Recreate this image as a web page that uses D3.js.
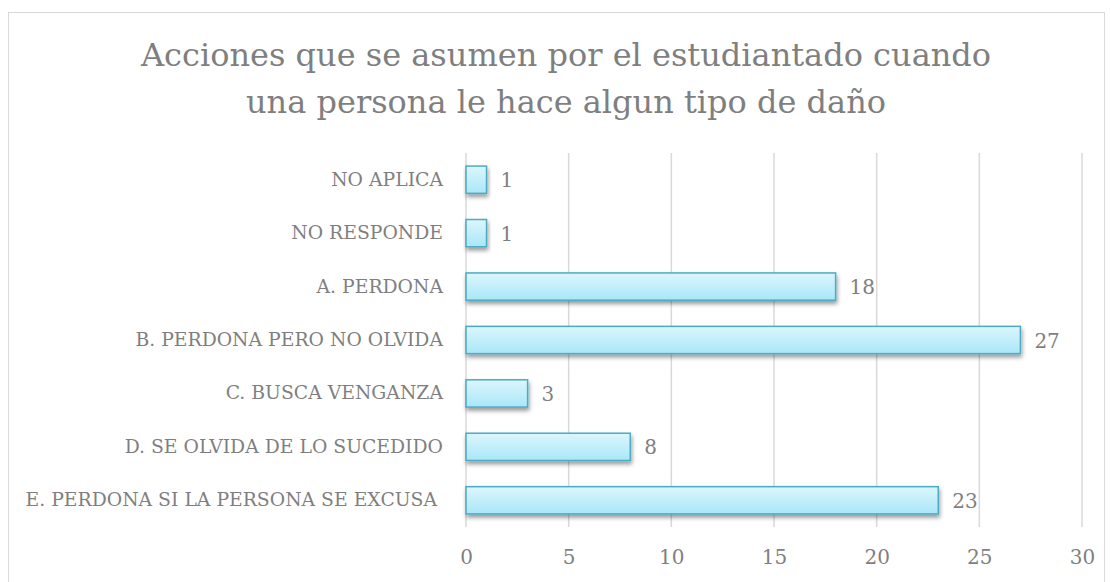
<!DOCTYPE html>
<html>
<head>
<meta charset="utf-8">
<script src="https://cdn.jsdelivr.net/npm/d3@7"></script>
<style>
  body { margin: 0; background: #fff; }
  svg text { font-family: "DejaVu Serif", "Liberation Serif", serif; fill: #7f7f7f; }
</style>
</head>
<body>
<div id="chart"></div>
<script>
const titleLines = ["Acciones que se asumen por el estudiantado cuando", "una persona le hace algun tipo de daño"];
const categories = [
  "NO APLICA",
  "NO RESPONDE",
  "A. PERDONA",
  "B. PERDONA PERO NO OLVIDA",
  "C. BUSCA VENGANZA",
  "D. SE OLVIDA DE LO SUCEDIDO",
  "E. PERDONA SI LA PERSONA SE EXCUSA "
];
const values = [1, 1, 18, 27, 3, 8, 23];
const xTicks = [0, 5, 10, 15, 20, 25, 30];

const width = 1110, height = 582;
const margin = { left: 466, right: 28, top: 153, bottom: 55 };

const svg = d3.select("#chart").append("svg")
  .attr("width", width)
  .attr("height", height);

const defs = svg.append("defs");
const grad = defs.append("linearGradient")
  .attr("id", "barGrad")
  .attr("x1", 0).attr("y1", 0).attr("x2", 0).attr("y2", 1);
grad.append("stop").attr("offset", "0%").attr("stop-color", "#dcf6fd");
grad.append("stop").attr("offset", "100%").attr("stop-color", "#a9e7f8");

const shadow = defs.append("filter").attr("id", "shadow")
  .attr("x", "-10%").attr("y", "-20%").attr("width", "130%").attr("height", "160%");
shadow.append("feDropShadow")
  .attr("dx", 1).attr("dy", 3).attr("stdDeviation", 2)
  .attr("flood-color", "#000").attr("flood-opacity", 0.4);

// frame
svg.append("rect")
  .attr("x", 8.5).attr("y", 12.5)
  .attr("width", 1096).attr("height", 600)
  .attr("fill", "#fff")
  .attr("stroke", "#d9d9d9");

// title
svg.append("g").selectAll("text")
  .data(titleLines)
  .enter().append("text")
  .attr("x", 566)
  .attr("y", (d, i) => 66 + i * 47)
  .attr("text-anchor", "middle")
  .attr("font-size", "32px")
  .text(d => d);

const x = d3.scaleLinear()
  .domain([0, 30])
  .range([margin.left, width - margin.right]);

const y = d3.scaleBand()
  .domain(categories)
  .range([margin.top, height - margin.bottom])
  .paddingInner(0.49)
  .paddingOuter(0.245);

// gridlines
svg.append("g").selectAll("line")
  .data(xTicks)
  .enter().append("line")
  .attr("x1", d => x(d)).attr("x2", d => x(d))
  .attr("y1", margin.top).attr("y2", height - margin.bottom)
  .attr("stroke", "#d9d9d9")
  .attr("stroke-width", 1.5);

// x axis labels
const xAxis = svg.append("g")
  .attr("transform", `translate(0,${height - margin.bottom})`)
  .call(d3.axisBottom(x).tickValues(xTicks).tickSize(0).tickPadding(23));
xAxis.select(".domain").remove();
xAxis.selectAll("text")
  .attr("font-size", "20px")
  .attr("fill", "#7f7f7f")
  .style("font-family", "\"DejaVu Serif\", serif");

// y axis labels
const yAxis = svg.append("g")
  .attr("transform", `translate(${margin.left},0)`)
  .call(d3.axisLeft(y).tickSize(0).tickPadding(23));
yAxis.select(".domain").remove();
yAxis.selectAll("text")
  .attr("font-size", "18.8px")
  .attr("fill", "#7f7f7f")
  .style("white-space", "pre")
  .style("font-family", "\"DejaVu Serif\", serif");

// bars
svg.append("g").selectAll("rect")
  .data(values)
  .enter().append("rect")
  .attr("x", x(0))
  .attr("y", (d, i) => y(categories[i]))
  .attr("width", d => x(d) - x(0))
  .attr("height", y.bandwidth())
  .attr("fill", "url(#barGrad)")
  .attr("stroke", "#4babc5")
  .attr("stroke-width", 1.5)
  .attr("filter", "url(#shadow)");

// value labels
svg.append("g").selectAll("text")
  .data(values)
  .enter().append("text")
  .attr("x", d => x(d) + 14)
  .attr("y", (d, i) => y(categories[i]) + y.bandwidth() / 2)
  .attr("dy", "0.38em")
  .attr("font-size", "20px")
  .text(d => d);
</script>
</body>
</html>
